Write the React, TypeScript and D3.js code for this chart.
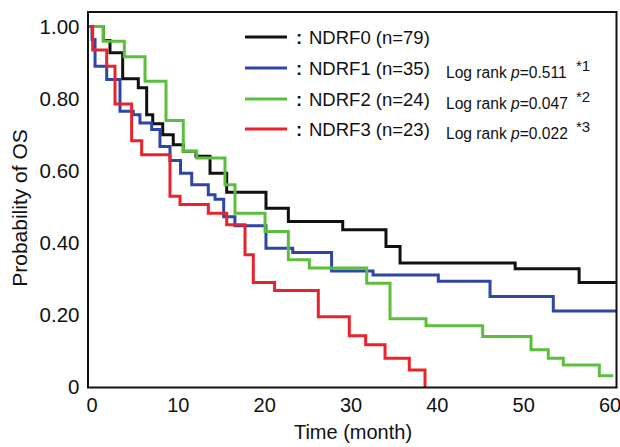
import React from "react";
import * as d3 from "d3";

const xTicks = [0, 10, 20, 30, 40, 50, 60];
const yTicks = [0, 0.2, 0.4, 0.6, 0.8, 1.0];
const yTickLabels = ["0", "0.20", "0.40", "0.60", "0.80", "1.00"];

const seriesNames = ["NDRF0 (n=79)", "NDRF1 (n=35)", "NDRF2 (n=24)", "NDRF3 (n=23)"];
const pValues = ["", "0.511", "0.047", "0.022"];
const pNotes = ["", "*1", "*2", "*3"];
const colors = ["#111111", "#2f46a6", "#5cbf3c", "#e8232b"];

const ndrf0Times = [0, 1.66, 2.43, 3.9, 5.71, 6.68, 7.38, 8.54, 9.76, 10.92, 12.39, 14.02, 15.95, 20.5, 23.09, 29.39, 34.4, 36.03, 49.36, 56.77, 61.05];
const ndrf0Surv = [1, 0.961, 0.927, 0.855, 0.83, 0.755, 0.73, 0.7, 0.672, 0.654, 0.64, 0.593, 0.54, 0.496, 0.459, 0.436, 0.39, 0.344, 0.328, 0.29, 0.29];

const ndrf1Times = [0, 0.35, 0.7, 2.05, 3.59, 5.13, 5.9, 7.26, 8.22, 9.38, 10.6, 11.9, 13.82, 14.6, 15.6, 16.9, 20.5, 23.6, 28.1, 32.9, 40.46, 46.45, 53.78, 61.05];
const ndrf1Surv = [1, 0.964, 0.89, 0.853, 0.765, 0.755, 0.732, 0.714, 0.667, 0.628, 0.593, 0.561, 0.533, 0.521, 0.472, 0.447, 0.385, 0.373, 0.322, 0.311, 0.293, 0.251, 0.211, 0.211];

const ndrf2Times = [0, 1.66, 4.09, 6.49, 8.92, 10.92, 12.48, 15.75, 16.91, 20.39, 23.09, 25.52, 32.17, 34.87, 39.04, 45.6, 51.2, 53.2, 54.94, 59.11, 60.73];
const ndrf2Surv = [1, 0.959, 0.916, 0.848, 0.739, 0.654, 0.635, 0.561, 0.482, 0.431, 0.353, 0.33, 0.288, 0.189, 0.17, 0.14, 0.103, 0.08, 0.061, 0.031, 0.031];

const ndrf3Times = [0, 0.43, 2.05, 3.01, 4.94, 6.1, 9.38, 10.54, 13.82, 15.95, 18.07, 19.03, 21.5, 26.56, 30.15, 32.05, 34.29, 37.1, 38.92];
const ndrf3Surv = [1, 0.935, 0.89, 0.785, 0.683, 0.644, 0.529, 0.506, 0.482, 0.45, 0.367, 0.29, 0.268, 0.195, 0.142, 0.117, 0.08, 0.047, 0];

const seriesTimes = [ndrf0Times, ndrf1Times, ndrf2Times, ndrf3Times];
const seriesSurv = [ndrf0Surv, ndrf1Surv, ndrf2Surv, ndrf3Surv];

const W = 620;
const H = 447;
const font = "'Liberation Sans', Arial, Helvetica, sans-serif";

export default function App() {
  const x = d3.scaleLinear().domain([0, 60]).range([89, 607]);
  const y = d3.scaleLinear().domain([0, 1]).range([387, 26.5]);
  const line = d3
    .line<[number, number]>()
    .x((d) => x(d[0]))
    .y((d) => y(d[1]))
    .curve(d3.curveStepAfter);

  const legendY = [37, 68, 99, 129];

  return (
    <svg width={W} height={H} style={{ position: "absolute", left: 0, top: 0, background: "#fff" }} fontFamily={font}>
      <rect x={0} y={0} width={W} height={H} fill="#fff" />
      {seriesTimes.map((ts, i) => (
        <path
          key={i}
          d={line(ts.map((t, j) => [t, seriesSurv[i][j]] as [number, number])) || ""}
          fill="none"
          stroke={colors[i]}
          strokeWidth={3}
          strokeLinejoin="miter"
          strokeLinecap="butt"
        />
      ))}
      <rect x={88} y={12} width={528.5} height={375.5} fill="none" stroke="#111" strokeWidth={2} />
      {yTicks.map((t, i) => (
        <text key={t} x={79.5} y={y(t)} dy="0.36em" textAnchor="end" fontSize={20.5} fill="#111">
          {yTickLabels[i]}
        </text>
      ))}
      {xTicks.map((t) => (
        <text key={t} x={x(t) + 3} y={412} textAnchor="middle" fontSize={20} fill="#111">
          {t}
        </text>
      ))}
      <text x={353} y={439} textAnchor="middle" fontSize={20} fill="#111">
        Time (month)
      </text>
      <text
        transform={`translate(27,208) rotate(-90)`}
        textAnchor="middle"
        fontSize={21}
        fill="#111"
      >
        Probability of OS
      </text>
      {seriesNames.map((name, i) => (
        <g key={name}>
          <line x1={245} x2={287} y1={legendY[i]} y2={legendY[i]} stroke={colors[i]} strokeWidth={3} />
          <text x={296} y={legendY[i]} dy="0.36em" fontSize={18.5} fontWeight="bold" fill="#111">
            :
          </text>
          <text x={309} y={legendY[i]} dy="0.36em" fontSize={18.5} fill="#111">
            {name}
          </text>
          {pValues[i] && (
            <text x={446} y={legendY[i] + 4} dy="0.36em" fontSize={15.6} fill="#111">
              Log rank <tspan fontStyle="italic">p</tspan>={pValues[i]}
            </text>
          )}
          {pNotes[i] && (
            <text x={576} y={legendY[i] - 2} dy="0.36em" fontSize={15} fill="#111">
              {pNotes[i]}
            </text>
          )}
        </g>
      ))}
    </svg>
  );
}
